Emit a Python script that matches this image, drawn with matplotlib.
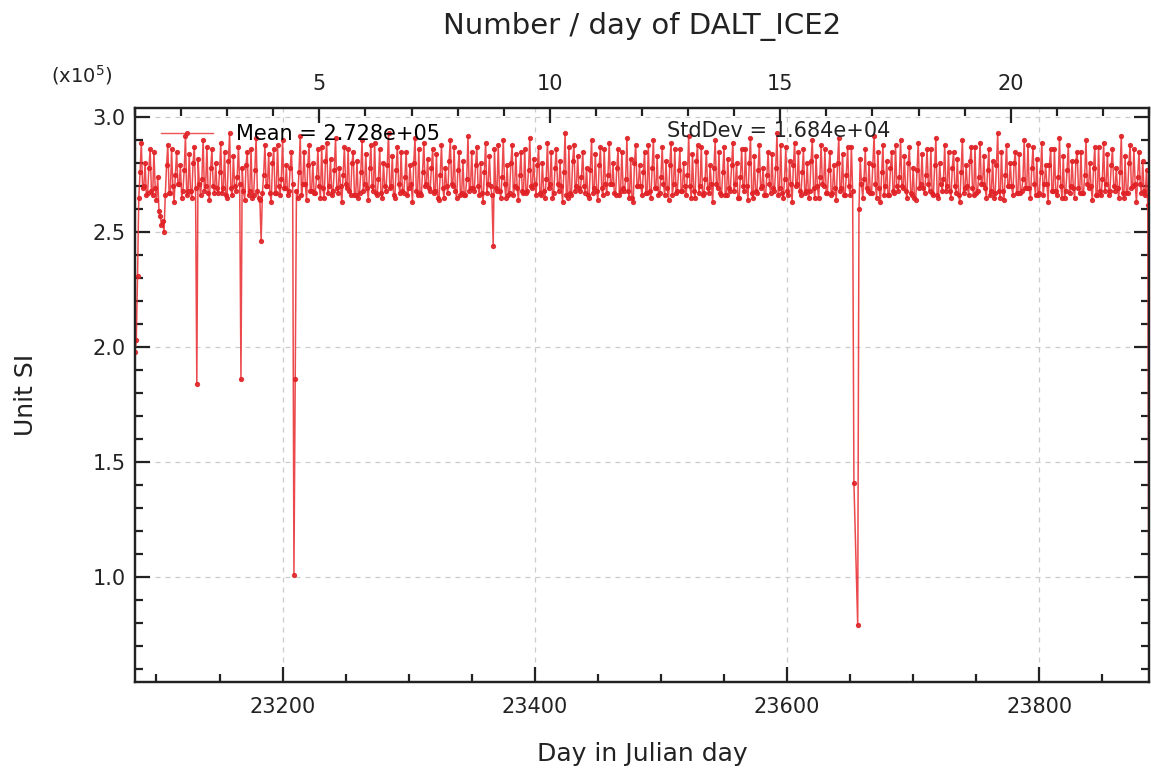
import numpy as np
import matplotlib
matplotlib.use("Agg")
import matplotlib.pyplot as plt
from matplotlib.ticker import MultipleLocator, FixedLocator
from matplotlib.lines import Line2D

plt.rcParams['font.family'] = ['DejaVu Sans']

# ---------------- texts ----------------
title = "Number / day of DALT_ICE2"
x_label = "Day in Julian day"
y_label = "Unit SI"
scale_label = r"(x10$^{5}$)"
mean_label = "Mean = 2.728e+05"
std_label = "StdDev = 1.684e+04"

# ---------------- data ----------------
first_day = 23083
last_day = 23887
missing_days = [23654, 23655]

# daily values in units of 1e3 (one row per week)
daily_values = [
    268, 283, 268, 265, 276, 289, 269,
    270, 280, 266, 267, 278, 286, 268,
    266, 285, 269, 264, 274, 291, 270,
    269, 281, 267, 266, 279, 288, 267,
    267, 286, 270, 263, 275, 285, 271,
    271, 279, 265, 268, 277, 292, 266,
    268, 284, 268, 265, 280, 287, 269,
    265, 282, 271, 266, 273, 290, 268,
    270, 287, 267, 264, 278, 286, 270,
    267, 280, 269, 267, 276, 289, 267,
    269, 285, 266, 265, 281, 293, 269,
    266, 283, 270, 268, 274, 287, 271,
    271, 278, 268, 264, 279, 285, 266,
    268, 286, 265, 266, 277, 291, 268,
    265, 281, 269, 267, 275, 288, 270,
    270, 284, 267, 263, 280, 286, 267,
    267, 288, 270, 266, 273, 290, 269,
    269, 279, 266, 268, 278, 285, 271,
    266, 283, 268, 265, 276, 292, 266,
    271, 285, 271, 264, 279, 288, 268,
    268, 280, 267, 267, 274, 286, 270,
    265, 287, 269, 265, 281, 289, 267,
    270, 282, 266, 268, 277, 291, 269,
    267, 278, 270, 263, 275, 287, 271,
    269, 286, 268, 266, 280, 285, 266,
    266, 281, 265, 267, 276, 290, 268,
    271, 284, 269, 264, 278, 288, 270,
    268, 289, 267, 266, 273, 286, 267,
    265, 280, 270, 268, 279, 293, 269,
    270, 283, 266, 265, 277, 287, 271,
    267, 285, 268, 267, 274, 285, 266,
    269, 279, 271, 263, 280, 291, 268,
    266, 286, 267, 266, 276, 289, 270,
    271, 282, 269, 268, 278, 286, 267,
    268, 284, 265, 264, 275, 288, 269,
    265, 278, 270, 267, 281, 290, 271,
    270, 287, 268, 265, 277, 285, 266,
    267, 281, 266, 266, 273, 292, 268,
    269, 285, 269, 268, 279, 287, 270,
    266, 280, 267, 263, 276, 289, 267,
    271, 283, 270, 266, 278, 286, 269,
    268, 288, 268, 265, 274, 290, 271,
    265, 279, 266, 267, 280, 288, 266,
    270, 284, 269, 264, 275, 285, 268,
    267, 286, 267, 268, 277, 291, 270,
    269, 282, 271, 266, 279, 287, 267,
    266, 280, 268, 265, 273, 289, 269,
    271, 285, 265, 267, 278, 286, 271,
    268, 281, 270, 263, 276, 293, 266,
    265, 287, 267, 266, 281, 288, 268,
    270, 283, 269, 268, 274, 285, 270,
    267, 278, 266, 265, 277, 290, 267,
    269, 284, 268, 264, 279, 287, 269,
    266, 286, 271, 267, 275, 289, 271,
    271, 280, 267, 266, 278, 286, 266,
    268, 285, 269, 268, 273, 291, 268,
    265, 282, 265, 263, 280, 288, 270,
    270, 279, 270, 266, 276, 285, 267,
    267, 288, 268, 265, 278, 290, 269,
    269, 283, 266, 267, 274, 287, 271,
    266, 281, 269, 264, 279, 289, 266,
    271, 286, 267, 268, 277, 286, 268,
    268, 280, 270, 266, 275, 292, 270,
    265, 284, 268, 265, 281, 288, 267,
    270, 287, 266, 267, 273, 285, 269,
    267, 279, 271, 263, 278, 290, 271,
    269, 285, 267, 266, 276, 287, 266,
    266, 282, 269, 268, 279, 289, 268,
    271, 280, 265, 265, 274, 286, 270,
    268, 286, 270, 264, 280, 291, 267,
    265, 283, 268, 267, 277, 288, 269,
    270, 278, 266, 266, 275, 285, 271,
    267, 284, 269, 268, 278, 293, 266,
    269, 288, 267, 265, 273, 287, 268,
    266, 281, 271, 263, 279, 289, 270,
    271, 285, 268, 266, 276, 286, 267,
    268, 280, 265, 268, 281, 290, 269,
    265, 283, 270, 265, 274, 288, 271,
    270, 286, 267, 267, 277, 285, 266,
    267, 279, 269, 264, 280, 291, 268,
    269, 284, 266, 266, 275, 287, 270,
    266, 287, 268, 268, 278, 289, 267,
    271, 282, 271, 265, 273, 286, 269,
    268, 280, 267, 267, 279, 292, 271,
    265, 285, 269, 263, 276, 288, 266,
    270, 281, 266, 266, 278, 285, 268,
    267, 288, 270, 268, 274, 290, 270,
    269, 283, 268, 265, 280, 287, 267,
    266, 278, 265, 264, 277, 289, 269,
    271, 284, 269, 267, 275, 286, 271,
    268, 286, 267, 266, 279, 291, 266,
    265, 280, 271, 268, 273, 288, 268,
    270, 285, 268, 265, 278, 285, 270,
    267, 282, 266, 263, 276, 290, 267,
    269, 279, 270, 266, 281, 287, 269,
    266, 287, 267, 268, 274, 289, 271,
    271, 283, 269, 265, 277, 286, 266,
    268, 281, 265, 267, 279, 293, 268,
    265, 285, 268, 264, 275, 288, 270,
    270, 280, 270, 266, 280, 285, 267,
    267, 284, 267, 268, 273, 290, 269,
    269, 288, 269, 265, 278, 287, 271,
    266, 282, 266, 267, 276, 289, 266,
    271, 279, 271, 263, 279, 286, 268,
    268, 286, 268, 266, 274, 291, 270,
    265, 283, 265, 268, 277, 288, 267,
    270, 281, 269, 265, 281, 285, 269,
    267, 285, 267, 267, 275, 290, 271,
    269, 280, 270, 264, 278, 287, 266,
    266, 287, 268, 266, 273, 289, 268,
    271, 284, 266, 268, 279, 286, 270,
    268, 278, 269, 265, 276, 292, 267,
    265, 283, 267, 267, 280, 288, 269,
    270, 286, 271, 263, 274, 285, 271,
    267, 281, 268, 266, 277, 290, 262,
]

# outlying days (units of 1e3)
dip_days = [23083, 23084, 23085, 23102, 23103, 23104, 23105, 23106,
            23132, 23167, 23182, 23183, 23209, 23210, 23367,
            23653, 23656, 23657, 23886, 23887]
dip_values = [198, 203, 231, 259, 257, 253, 255, 250,
              184, 186, 264, 246, 101, 186, 244,
              141, 79, 260, 262, 40]

x_ticks = [23200, 23400, 23600, 23800]
top_ticks = [5, 10, 15, 20]
top_range = (1, 23)

# ---------------- build series ----------------
days_all = np.arange(first_day, last_day + 1)
vals_all = np.array(daily_values, dtype=float)[:len(days_all)]
for d, v in zip(dip_days, dip_values):
    vals_all[d - first_day] = v
keep = ~np.isin(days_all, missing_days)
days = days_all[keep]
vals = vals_all[keep] / 100.0  # in units of 1e5

# ---------------- figure ----------------
fig = plt.figure(figsize=(11.51, 7.70), dpi=100)
ax = fig.add_axes([0.1173, 0.1143, 0.8810, 0.7454])

line_color = '#ea3034'
mk_color = '#e02226'
ax.plot(days, vals, color=line_color, lw=1.1, marker='o', ms=2.8,
        mfc=mk_color, mec=mk_color, alpha=0.88, zorder=3)

ax.set_xlim(first_day, last_day)
ax.set_ylim(0.543, 3.04)

ax.xaxis.set_major_locator(FixedLocator(x_ticks))
ax.xaxis.set_minor_locator(MultipleLocator(50))
ax.yaxis.set_major_locator(MultipleLocator(0.5))
ax.yaxis.set_minor_locator(MultipleLocator(0.1))

tick_col = '#222222'
ax.tick_params(axis='both', which='both', direction='in', labelsize=15,
               width=1.6, color=tick_col, labelcolor=tick_col)
ax.tick_params(which='major', length=11)
ax.tick_params(which='minor', length=5.5)
ax.tick_params(axis='x', which='both', top=False, bottom=True, pad=11)
ax.tick_params(axis='y', which='both', left=True, right=True, pad=6.5)
for sp in ax.spines.values():
    sp.set_linewidth(1.6)
    sp.set_color(tick_col)

ax.grid(True, which='major', linestyle=(0, (4, 4)), color='#cccccc', lw=0.9, zorder=0)

ax2 = ax.twiny()
ax2.set_xlim(*top_range)
ax2.xaxis.set_major_locator(FixedLocator(top_ticks))
ax2.xaxis.set_minor_locator(MultipleLocator(1))
ax2.tick_params(axis='x', which='both', direction='in', top=True, bottom=False,
                labeltop=True, labelbottom=False, labelsize=15, width=1.6,
                color=tick_col, labelcolor=tick_col, pad=10)
ax2.tick_params(which='major', length=11)
ax2.tick_params(which='minor', length=5.5)
for sp in ax2.spines.values():
    sp.set_linewidth(1.6)
    sp.set_color(tick_col)

ax.set_xlabel(x_label, fontsize=18, color=tick_col)
ax.xaxis.set_label_coords(0.5, -0.1054)
ax.set_ylabel(y_label, fontsize=18, color=tick_col)
ax.yaxis.set_label_coords(-0.0957, 0.5)

fig.text(0.5578, 0.965, title, fontsize=21, ha='center', va='center', color=tick_col)
ax.text(-0.053, 1.057, scale_label, transform=ax.transAxes, fontsize=14,
        ha='center', va='center', color=tick_col)

handle = Line2D([], [], color=line_color, lw=1.0, marker='o', ms=2.8,
                mfc=mk_color, mec=mk_color, alpha=0.82)
leg = ax.legend([handle], [mean_label], loc='upper left', frameon=False,
                fontsize=15, handlelength=2.5, handletextpad=1.1,
                bbox_to_anchor=(0.0069, 1.0052), borderaxespad=0.5)
ax.text(0.5247, 0.96, std_label, transform=ax.transAxes, fontsize=15,
        ha='left', va='center', color=tick_col)

fig.savefig("out.png", dpi=100)
